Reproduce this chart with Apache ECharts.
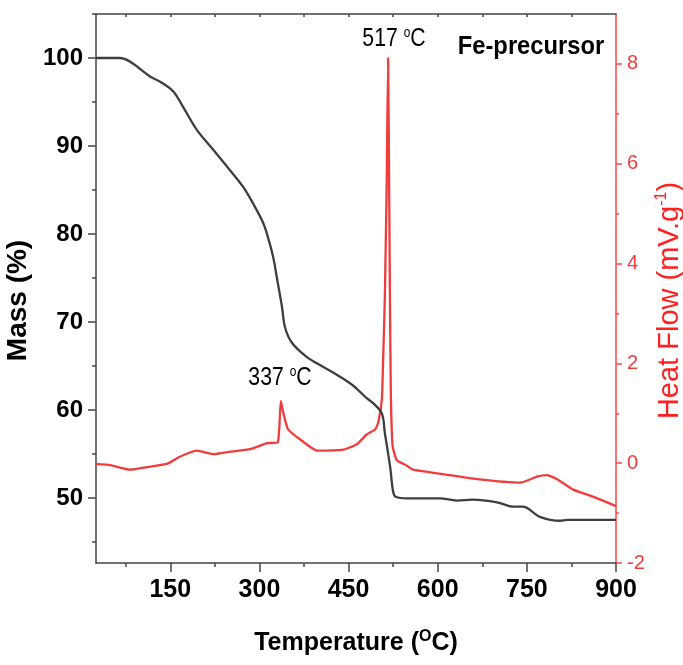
<!DOCTYPE html>
<html>
<head>
<meta charset="utf-8">
<script src="https://cdn.jsdelivr.net/npm/echarts@6/dist/echarts.min.js"></script>
<style>
html,body{margin:0;padding:0;background:#fff;}
#chart{width:683px;height:665px;}
</style>
</head>
<body>
<div id="chart"></div>
<script>
/*-------------------------数据----------------------------*/
//质量曲线 (温度 / 质量%)
var massTemp = [25, 65, 82, 116, 133, 155, 171, 195, 222, 245, 272, 289, 306, 314, 323, 331, 338, 343, 355, 380, 407, 430, 457, 481, 491, 506, 511, 520, 525, 530, 548, 604, 632, 659, 700, 727, 743, 772, 806, 818, 900];
var massVal = [100, 100, 99.6, 97.9, 97.3, 96.2, 94.5, 91.8, 89.6, 87.7, 85.4, 83.5, 81.3, 79.7, 77.4, 74.4, 71.7, 69.4, 67.6, 66.0, 64.9, 64.0, 62.8, 61.3, 60.8, 59.6, 57.4, 53.5, 50.7, 50.1, 49.95, 49.95, 49.7, 49.8, 49.5, 49.0, 49.0, 47.85, 47.4, 47.5, 47.5];
//热流曲线 (温度 / mV.g-1)
var heatTemp = [25, 49, 82, 116, 145, 166, 195, 222, 251, 284, 313, 331, 336, 340, 348, 368, 397, 441, 464, 481, 495, 500, 506, 508, 511, 514, 516.5, 518, 519.5, 521, 524, 531, 548, 558, 609, 666, 739, 767, 784, 801, 828, 861, 900];
var heatVal = [-0.02, -0.04, -0.13, -0.07, -0.01, 0.13, 0.25, 0.18, 0.23, 0.28, 0.40, 0.42, 1.25, 1.02, 0.68, 0.48, 0.25, 0.27, 0.38, 0.58, 0.68, 0.82, 1.28, 2.0, 3.3, 5.5, 8.12, 6.0, 3.5, 1.5, 0.35, 0.06, -0.05, -0.13, -0.22, -0.32, -0.39, -0.27, -0.24, -0.32, -0.53, -0.67, -0.86];
//刻度
var xMajor = [150, 300, 450, 600, 750, 900];
var xMinor = [75, 225, 375, 525, 675, 825];
var xTop = [75, 150, 225, 300, 375, 450, 525, 600, 675, 750, 825];
var massMajor = [50, 60, 70, 80, 90, 100];
var massMinor = [45, 55, 65, 75, 85, 95, 105];
var heatMajor = [-2, 0, 2, 4, 6, 8];
var heatMinor = [-1, 1, 3, 5, 7];

var SANS = "'Liberation Sans',Arial,sans-serif";
var DARK = '#444';
var RED = '#f23c3c';
var RED_AXIS = '#ff4545';

var massData = massTemp.map(function (t, i) { return [t, massVal[i]]; });
var heatData = heatTemp.map(function (t, i) { return [t, heatVal[i]]; });

//带上标的峰值标注
function supText(x, y, txt, sx) {
    return {
        type: 'text', x: x, y: y, scaleX: sx,
        style: {
            text: txt + ' {s|o}C', fill: '#000', fontFamily: SANS, fontSize: 25, align: 'center', verticalAlign: 'middle', lineHeight: 26,
            rich: { s: { fontFamily: SANS, fontSize: 14, verticalAlign: 'top', fill: '#000' } }
        }
    };
}

/*------------------------echarts初始化-----------------------*/
var myChart = echarts.init(document.getElementById('chart'));
var option = {
    animation: false,
    backgroundColor: '#fff',
    grid: { left: 96, right: 67, top: 14, bottom: 102, outerBoundsMode: 'none', containLabel: false },
    xAxis: [
        {
            type: 'value', min: 25, max: 900, position: 'bottom',
            axisLine: { onZero: false, lineStyle: { color: DARK, width: 1.5 } },
            axisTick: { customValues: xMajor, length: 9, lineStyle: { color: DARK, width: 1.5 } },
            axisLabel: { customValues: xMajor, color: '#000', fontFamily: SANS, fontWeight: 'bold', fontSize: 25, margin: 15 },
            splitLine: { show: false },
            name: 'Temperature ({s|O}C)',
            nameLocation: 'middle',
            nameGap: 66,
            nameTextStyle: {
                color: '#000', fontFamily: SANS, fontWeight: 'bold', fontSize: 25, lineHeight: 28,
                rich: { s: { fontFamily: SANS, fontWeight: 'bold', fontSize: 16, verticalAlign: 'top', color: '#000' } }
            }
        },
        {
            type: 'value', min: 25, max: 900, position: 'bottom',
            axisLine: { show: false, onZero: false },
            axisTick: { customValues: xMinor, length: 4, lineStyle: { color: DARK, width: 1.5 } },
            axisLabel: { show: false },
            splitLine: { show: false }
        },
        {
            type: 'value', min: 25, max: 900, position: 'top',
            axisLine: { onZero: false, lineStyle: { color: DARK, width: 1.5 } },
            axisTick: { customValues: xTop, inside: true, length: 3, lineStyle: { color: DARK, width: 1.5 } },
            axisLabel: { show: false },
            splitLine: { show: false }
        }
    ],
    yAxis: [
        {
            type: 'value', min: 42.6, max: 105, position: 'left',
            axisLine: { show: true, onZero: false, lineStyle: { color: DARK, width: 1.5 } },
            axisTick: { show: true, customValues: massMajor, length: 8, lineStyle: { color: DARK, width: 1.5 } },
            axisLabel: { customValues: massMajor, color: '#000', fontFamily: SANS, fontWeight: 'bold', fontSize: 24, margin: 13 },
            splitLine: { show: false },
            name: 'Mass (%)',
            nameLocation: 'middle',
            nameRotate: 90,
            nameGap: 62,
            nameTextStyle: { color: '#000', fontFamily: SANS, fontWeight: 'bold', fontSize: 28, padding: [0, 0, 0, -24] }
        },
        {
            type: 'value', min: -2, max: 9, position: 'right',
            axisLine: { show: true, onZero: false, lineStyle: { color: RED_AXIS, width: 1.5 } },
            axisTick: { show: true, customValues: heatMajor, length: 6, lineStyle: { color: RED_AXIS, width: 1.5 } },
            axisLabel: { customValues: heatMajor, color: RED, fontFamily: SANS, fontSize: 20, margin: 11 },
            splitLine: { show: false },
            name: 'Heat Flow (mV.g{s|-1})',
            nameLocation: 'middle',
            nameRotate: 90,
            nameGap: 38,
            nameMoveOverlap: false,
            nameTextStyle: {
                color: '#ff2020', fontFamily: SANS, fontSize: 29, lineHeight: 32, padding: [0, 0, 0, -24],
                rich: { s: { fontFamily: SANS, fontSize: 16, verticalAlign: 'top', color: '#ff2020' } }
            }
        },
        {
            type: 'value', min: 42.6, max: 105, position: 'left',
            axisLine: { show: false, onZero: false },
            axisTick: { show: true, customValues: massMinor, length: 4, lineStyle: { color: DARK, width: 1.5 } },
            axisLabel: { show: false },
            splitLine: { show: false }
        },
        {
            type: 'value', min: -2, max: 9, position: 'right',
            axisLine: { show: false, onZero: false },
            axisTick: { show: true, customValues: heatMinor, length: 3, lineStyle: { color: RED_AXIS, width: 1.5 } },
            axisLabel: { show: false },
            splitLine: { show: false }
        }
    ],
    graphic: [
        supText(394, 39, '517', 0.85),
        supText(280, 378, '337', 0.85),
        {
            type: 'text', x: 531, y: 47, scaleX: 0.95,
            style: { text: 'Fe-precursor', fill: '#000', fontFamily: SANS, fontWeight: 'bold', fontSize: 25, align: 'center', verticalAlign: 'middle' }
        }
    ],
    series: [
        {
            name: 'Mass',
            type: 'line',
            xAxisIndex: 0,
            yAxisIndex: 0,
            data: massData,
            showSymbol: false,
            smooth: 0.35,
            lineStyle: { color: '#3e3e3e', width: 2.3 },
            z: 3
        },
        {
            name: 'Heat Flow',
            type: 'line',
            xAxisIndex: 0,
            yAxisIndex: 1,
            data: heatData,
            showSymbol: false,
            smooth: 0.15,
            lineStyle: { color: RED, width: 2.3 },
            z: 2
        }
    ]
};
myChart.setOption(option);
</script>
</body>
</html>
